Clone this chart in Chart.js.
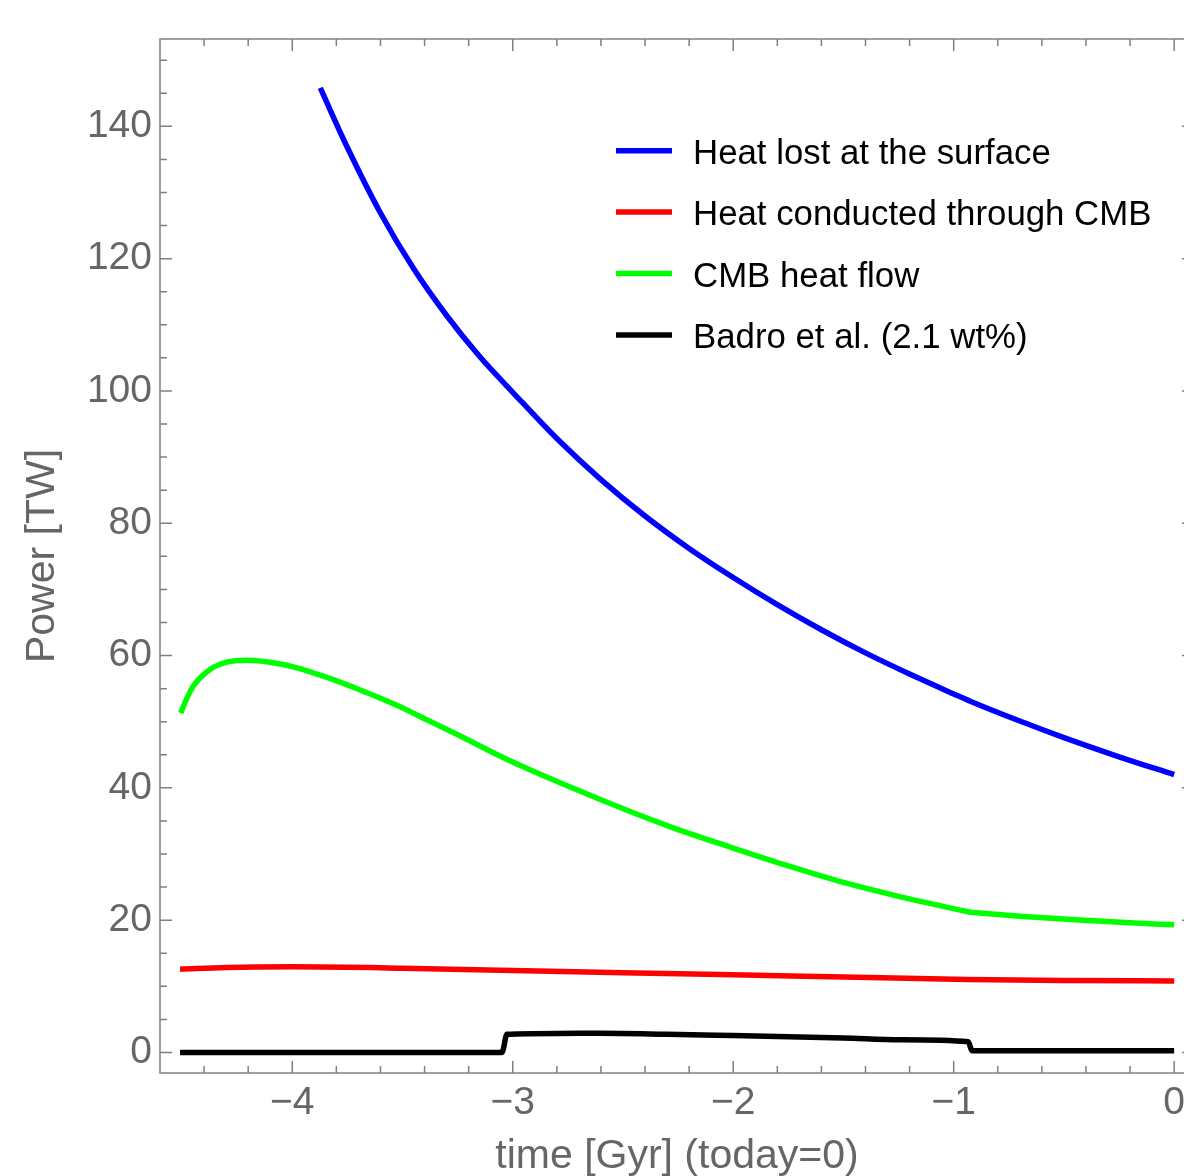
<!DOCTYPE html>
<html>
<head>
<meta charset="utf-8">
<title>Power [TW] vs time</title>
<script src="https://cdn.jsdelivr.net/npm/chart.js@4.4.1/dist/chart.umd.min.js"></script>
<style>
  html, body { margin: 0; padding: 0; background: #fff; overflow: hidden; }
  canvas { display: block; }
</style>
</head>
<body>
<canvas id="power" width="1200" height="1200"></canvas>
<script>
// time in Gyr before today, power in TW
const surface_t = [-3.873, -3.75, -3.6, -3.45, -3.3, -3.15, -3.0, -2.8, -2.6, -2.4, -2.2, -2.0, -1.8, -1.6, -1.4, -1.2, -1.0, -0.925, -0.7, -0.5, -0.25, 0];
const surface_P = [145.8, 136.8, 126.9, 118.5, 111.4, 105.2, 99.8, 92.8, 86.6, 81.1, 76.2, 71.8, 67.7, 63.9, 60.4, 57.2, 54.2, 53.1, 50.1, 47.6, 44.7, 42.0];

const cond_t = [-4.509, -4.3, -4.0, -3.5, -3.0, -2.5, -2.0, -1.5, -0.94, -0.5, 0];
const cond_P = [12.6, 12.85, 12.95, 12.75, 12.4, 12.05, 11.75, 11.4, 11.05, 10.9, 10.8];

const cmb_t = [-4.506, -4.48, -4.449, -4.373, -4.297, -4.206, -4.101, -3.995, -3.843, -3.692, -3.541, -3.39, -3.254, -3.0, -2.6, -2.3, -2.0, -1.75, -1.5, -1.25, -0.94, -0.925, -0.91, -0.7, -0.45, -0.2, 0];
const cmb_P = [51.3, 53.4, 55.4, 57.9, 59.0, 59.3, 59.0, 58.3, 56.7, 54.8, 52.7, 50.3, 48.1, 43.9, 38.2, 34.3, 30.9, 28.2, 25.7, 23.6, 21.31, 21.2, 21.16, 20.6, 20.05, 19.6, 19.3];

const badro_t = [-4.509, -3.049, -3.026, -2.8, -2.6, -2.3, -2.0, -1.5, -1.242, -0.934, -0.917, 0];
const badro_P = [0, 0, 2.75, 2.88, 2.9, 2.75, 2.55, 2.2, 1.93, 1.63, 0.27, 0.27];

const series_names = ["Heat lost at the surface", "Heat conducted through CMB", "CMB heat flow", "Badro et al. (2.1 wt%)"];
const series_colors = ["#0000ff", "#ff0000", "#00ff00", "#000000"];

const x_ticks = [-4, -3, -2, -1, 0];
const y_ticks = [0, 20, 40, 60, 80, 100, 120, 140];

const FONT = "'Liberation Sans', Arial, Helvetica, sans-serif";
const AXIS_GREY = "#666666";
const FRAME_GREY = "#808080";

function series(name, color, ts, ps) {
    return {
        label: name,
        data: ts.map((t, i) => ({x: t, y: ps[i]})),
        borderColor: color,
        borderWidth: 5.5,
        pointRadius: 0,
        fill: false,
        cubicInterpolationMode: "monotone",
        borderJoinStyle: "round"
    };
}

function minus(v) {
    return v < 0 ? "\u2212" + Math.abs(v) : String(v);
}

// Mathematica-style frame: box on all four sides, inward major and minor ticks
const framePlugin = {
    id: "frame",
    beforeDatasetsDraw(chart) {
        const {ctx, chartArea: a, scales: {x, y}} = chart;
        ctx.save();
        ctx.strokeStyle = FRAME_GREY;
        ctx.lineWidth = 1.5;
        ctx.strokeRect(a.left, a.top, a.right - a.left, a.bottom - a.top);

        ctx.beginPath();
        // x ticks, every 0.2 with longer marks on whole numbers
        for (let k = -22; k <= 0; k++) {
            const v = k / 5;
            const len = (k % 5 === 0) ? 12 : 7;
            const px = x.getPixelForValue(v);
            ctx.moveTo(px, a.bottom); ctx.lineTo(px, a.bottom - len);
            ctx.moveTo(px, a.top); ctx.lineTo(px, a.top + len);
        }
        // y ticks, every 5 with longer marks on multiples of 20
        for (let v = 0; v <= 150; v += 5) {
            const len = (v % 20 === 0) ? 12 : 7;
            const py = y.getPixelForValue(v);
            ctx.moveTo(a.left, py); ctx.lineTo(a.left + len, py);
            ctx.moveTo(a.right, py); ctx.lineTo(a.right - len, py);
        }
        ctx.stroke();
        ctx.restore();
    }
};

const legendPlugin = {
    id: "insetLegend",
    afterDatasetsDraw(chart) {
        const ctx = chart.ctx;
        ctx.save();
        ctx.font = "34.8px " + FONT;
        ctx.textBaseline = "alphabetic";
        ctx.textAlign = "left";
        chart.data.datasets.forEach((ds, i) => {
            const yy = 150.7 + i * 61.4;
            ctx.strokeStyle = ds.borderColor;
            ctx.lineWidth = 5.5;
            ctx.beginPath();
            ctx.moveTo(616, yy);
            ctx.lineTo(672, yy);
            ctx.stroke();
            ctx.fillStyle = "#000";
            ctx.fillText(ds.label, 693, yy + 13.3);
        });
        ctx.restore();
    }
};

new Chart(document.getElementById("power"), {
    type: "line",
    data: {
        datasets: [
            series(series_names[0], series_colors[0], surface_t, surface_P),
            series(series_names[1], series_colors[1], cond_t, cond_P),
            series(series_names[2], series_colors[2], cmb_t, cmb_P),
            series(series_names[3], series_colors[3], badro_t, badro_P)
        ]
    },
    options: {
        responsive: false,
        animation: false,
        devicePixelRatio: 1,
        layout: { padding: { top: 39, right: 6, left: 0, bottom: 0 } },
        plugins: {
            legend: { display: false },
            tooltip: { enabled: false }
        },
        scales: {
            x: {
                type: "linear",
                min: -4.6,
                max: 0.09,
                grid: { display: false, drawTicks: false },
                border: { display: false },
                afterBuildTicks: s => { s.ticks = x_ticks.map(v => ({value: v})); },
                // fixed band below the plot; label overhang must not shrink the plot box
                afterFit: s => { s.height = 127; s.paddingLeft = 0; s.paddingRight = 0; },
                ticks: {
                    padding: 7,
                    color: AXIS_GREY,
                    autoSkip: false,
                    maxRotation: 0,
                    font: { family: FONT, size: 39 },
                    callback: v => minus(v)
                },
                title: {
                    display: true,
                    text: "time [Gyr] (today=0)",
                    color: AXIS_GREY,
                    font: { family: FONT, size: 41 },
                    padding: { top: 0, bottom: 19 }
                }
            },
            y: {
                type: "linear",
                min: -3.1,
                max: 153.2,
                grid: { display: false, drawTicks: false },
                border: { display: false },
                afterBuildTicks: s => { s.ticks = y_ticks.map(v => ({value: v})); },
                afterFit: s => { s.width = 160; s.paddingTop = 0; s.paddingBottom = 0; },
                ticks: {
                    padding: 8,
                    color: AXIS_GREY,
                    autoSkip: false,
                    font: { family: FONT, size: 39 },
                    callback: v => minus(v)
                },
                title: {
                    display: true,
                    text: "Power [TW]",
                    color: AXIS_GREY,
                    font: { family: FONT, size: 41 },
                    padding: { top: 18, bottom: 0 }
                }
            }
        }
    },
    plugins: [framePlugin, legendPlugin]
});
</script>
</body>
</html>
